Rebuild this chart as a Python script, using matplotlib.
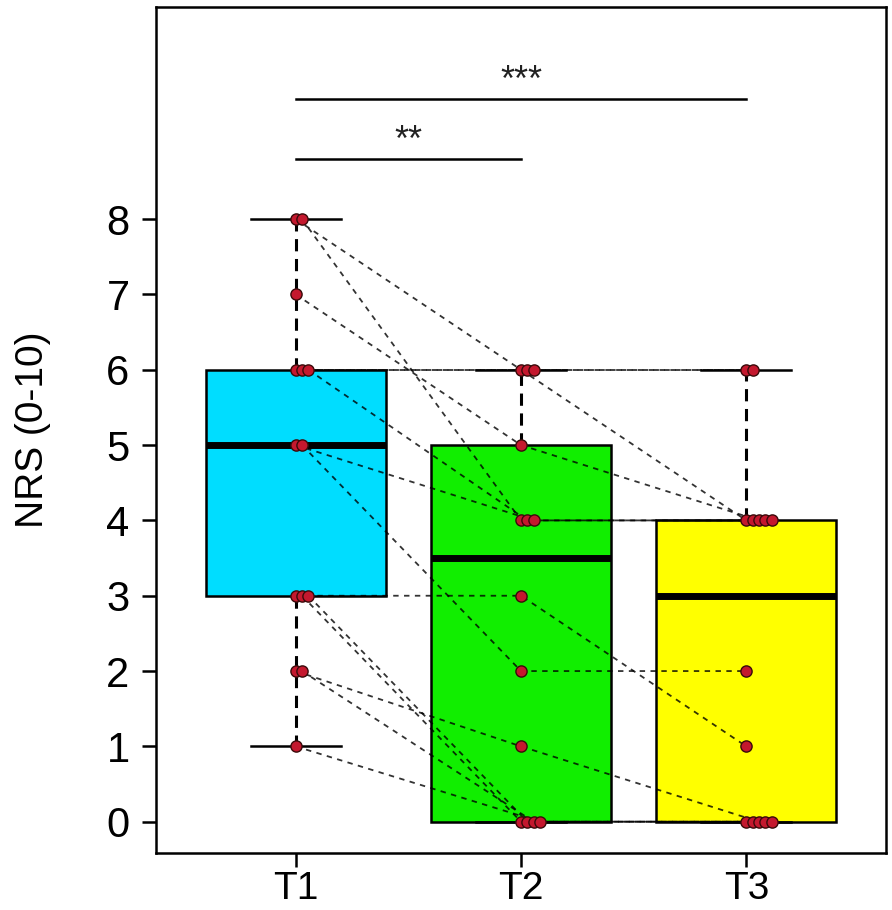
import numpy as np
import matplotlib.pyplot as plt

plt.rcParams['font.family'] = ['Liberation Sans', 'DejaVu Sans']

# paired NRS scores, one entry per subject
groups = ['T1', 'T2', 'T3']
t1 = [8, 8, 7, 6, 6, 6, 5, 5, 3, 3, 3, 2, 2, 1]
t2 = [6, 4, 5, 6, 6, 4, 4, 2, 3, 0, 0, 1, 0, 0]
t3 = [4, 4, 4, 6, 6, 4, 4, 2, 1, 0, 0, 0, 0, 0]
box_colors = ['#00DDFF', '#11EE00', '#FFFF00']

# significance brackets: (from group, to group, label)
sig_pairs = [(1, 2, '**'), (1, 3, '***')]
sig_heights = [8.8, 9.6]


def fivenum_stats(vals, label):
    """Tukey hinges like R's boxplot()."""
    x = np.sort(np.asarray(vals, dtype=float))
    n = len(x)
    n4 = np.floor((n + 3) / 2) / 2
    d = np.array([1, n4, (n + 1) / 2, n + 1 - n4, n]) - 1
    fn = 0.5 * (x[np.floor(d).astype(int)] + x[np.ceil(d).astype(int)])
    iqr = fn[3] - fn[1]
    lo = x[x >= fn[1] - 1.5 * iqr].min()
    hi = x[x <= fn[3] + 1.5 * iqr].max()
    return dict(label=label, q1=fn[1], med=fn[2], q3=fn[3],
                whislo=lo, whishi=hi, fliers=[])


def stacked_x(vals, pos, step=0.028):
    seen = {}
    xs = []
    for v in vals:
        k = seen.get(v, 0)
        xs.append(pos + k * step)
        seen[v] = k + 1
    return np.array(xs)


data = [t1, t2, t3]
stats = [fivenum_stats(v, g) for v, g in zip(data, groups)]
positions = [1, 2, 3]

fig = plt.figure(figsize=(8.92, 9.10), dpi=100)
ax = fig.add_axes([0.1749, 0.0626, 0.8184, 0.9297])

bp = ax.bxp(stats, positions=positions, widths=0.8, patch_artist=True,
            showfliers=False,
            boxprops=dict(linewidth=1.8, edgecolor='black'),
            medianprops=dict(color='black', linewidth=5, solid_capstyle='butt'),
            whiskerprops=dict(color='black', linewidth=2.2, linestyle=(0, (4, 2.5))),
            capprops=dict(color='black', linewidth=1.8),
            capwidths=0.4)
for patch, c in zip(bp['boxes'], box_colors):
    patch.set_facecolor(c)

# paired lines + points
xs = [stacked_x(v, p) for v, p in zip(data, positions)]
for i in range(len(t1)):
    ax.plot([xs[0][i], xs[1][i], xs[2][i]], [t1[i], t2[i], t3[i]],
            color='black', alpha=0.8, linewidth=1.3, linestyle=(0, (3, 3)),
            zorder=3)
for x, v in zip(xs, data):
    ax.scatter(x, v, s=65, facecolor='#C4182E', edgecolor='#3A0A0A',
               linewidth=1.0, zorder=4)

# significance brackets
for (a, b, lab), h in zip(sig_pairs, sig_heights):
    ax.plot([a, b], [h, h], color='black', linewidth=1.8)
    ax.text((a + b) / 2, h + 0.1, lab, ha='center', va='baseline',
            fontsize=26, color='#222222')

ax.set_xlim(0.38, 3.62)
ax.set_ylim(-0.416, 10.816)
ax.set_xticks(positions)
ax.set_xticklabels(groups)
ax.set_yticks(range(0, 9))
ax.tick_params(axis='both', length=10, width=1.8, direction='out')
ax.tick_params(axis='y', labelsize=30, pad=9)
ax.tick_params(axis='x', labelsize=28, pad=3)
for s in ax.spines.values():
    s.set_linewidth(1.8)
ax.set_ylabel('NRS (0-10)', fontsize=28, labelpad=40)

fig.savefig('out.png', dpi=100)
